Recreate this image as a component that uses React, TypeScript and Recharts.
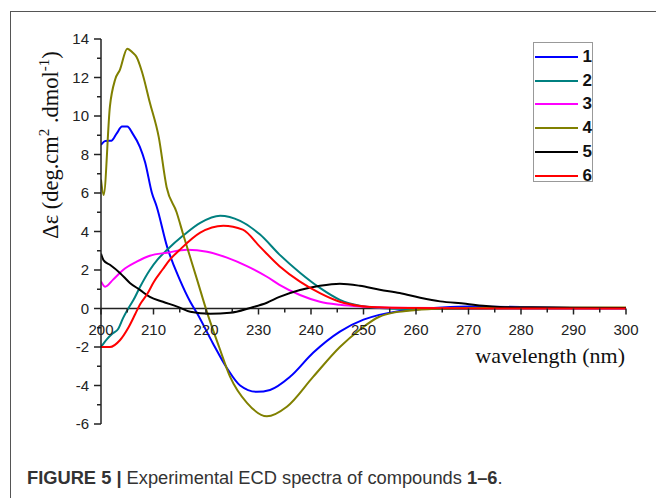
import React from 'react';
import { LineChart, Line, XAxis, YAxis, ReferenceLine, ReferenceDot, Legend } from 'recharts';

// wavelength (nm) and Δε values
const wl1 = [200, 200.8, 202, 203, 204, 205, 206, 207.4, 208.4, 209.7, 210.6, 212.6, 215, 217, 218.3, 221.3, 224, 226.5, 229.7, 232.2, 236, 240.4, 245.5, 250, 253, 256.4, 260, 265, 270, 280, 290, 300];
const cd1 = [8.5, 8.7, 8.72, 9.1, 9.45, 9.45, 9.1, 8.4, 7.6, 6.0, 5.3, 3.2, 1.5, 0.35, -0.25, -1.8, -3.1, -4.0, -4.33, -4.23, -3.55, -2.3, -1.2, -0.58, -0.33, -0.15, -0.05, 0.05, 0.1, 0.08, 0.04, 0.03];

const wl2 = [200, 201.1, 202.2, 203.3, 204.2, 205.2, 206.2, 207.4, 209.3, 210.8, 212.6, 215.7, 218.9, 222.7, 226.5, 230.3, 234, 237.9, 241.7, 245.5, 249.3, 253, 258, 265, 280, 300];
const cd2 = [-2.0, -1.6, -1.3, -1.05, -0.5, 0.0, 0.45, 1.1, 2.0, 2.55, 3.05, 3.8, 4.45, 4.82, 4.55, 3.84, 2.8, 1.86, 1.07, 0.45, 0.14, 0.03, -0.02, -0.02, 0.0, 0.0];

const wl3 = [200, 200.8, 202.3, 204.2, 206.8, 209.3, 212.6, 216.4, 220.2, 224, 227.8, 231.6, 234, 237.9, 241.7, 245.5, 249.3, 255, 265, 300];
const cd3 = [1.4, 1.13, 1.5, 2.0, 2.43, 2.74, 2.9, 3.05, 2.95, 2.64, 2.2, 1.65, 1.23, 0.7, 0.35, 0.19, 0.1, 0.04, 0.02, 0.0];

const wl4 = [200, 200.5, 201.7, 202.7, 203.6, 205, 206, 206.8, 207.8, 209.3, 211, 212.5, 214.4, 215.6, 218.3, 220.2, 222.5, 224.6, 227.8, 231.6, 235.4, 240.4, 245.5, 249.3, 253, 256, 260, 265, 270, 280, 290, 300];
const cd4 = [6.7, 5.9, 10.5, 11.9, 12.4, 13.5, 13.3, 13.05, 12.3, 10.7, 8.9, 6.3, 5.0, 3.9, 1.5, -0.2, -2.0, -3.55, -4.9, -5.6, -5.1, -3.55, -2.0, -1.1, -0.43, -0.2, -0.08, 0.0, 0.03, 0.05, 0.05, 0.05];

const wl5 = [200, 200.5, 201.7, 203.6, 205.5, 207.4, 209.3, 211.8, 214.5, 217, 220.8, 224.6, 228.4, 231.6, 234, 237.9, 241.7, 245.5, 249.3, 253.1, 256.9, 260.8, 264.6, 269.5, 272.8, 276, 282, 290, 300];
const cd5 = [2.85, 2.5, 2.27, 1.85, 1.33, 0.97, 0.6, 0.35, 0.1, -0.17, -0.27, -0.22, 0.03, 0.3, 0.6, 0.96, 1.18, 1.29, 1.18, 0.97, 0.8, 0.56, 0.37, 0.25, 0.14, 0.08, 0.05, 0.03, 0.02];

const wl6 = [200, 201.7, 203.6, 205.2, 206.5, 207.4, 208.8, 210, 211.8, 213, 215, 218.9, 223.3, 227, 230.3, 234, 237.9, 241.7, 245.5, 249.3, 253, 260, 270, 300];
const cd6 = [-2.0, -2.0, -1.65, -1.0, -0.3, 0.2, 0.75, 1.35, 2.05, 2.5, 3.05, 3.94, 4.3, 4.1, 3.2, 2.2, 1.4, 0.8, 0.35, 0.13, 0.06, 0.02, 0.0, 0.0];

const names = ['1', '2', '3', '4', '5', '6'];
const colors = ['#0000ff', '#008080', '#ff00ff', '#808000', '#000000', '#ff0000'];

const yTicks = [-6, -5, -4, -3, -2, -1, 0, 1, 2, 3, 4, 5, 6, 7, 8, 9, 10, 11, 12, 13, 14];
const xTicks = [200, 205, 210, 215, 220, 225, 230, 235, 240, 245, 250, 255, 260, 265, 270, 275, 280, 285, 290, 295, 300];

const series = [
  [wl1, cd1], [wl2, cd2], [wl3, cd3], [wl4, cd4], [wl5, cd5], [wl6, cd6],
].map(([w, c]) => w.map((x, i) => ({ wl: x, v: c[i] })));

const tickFont = '"Liberation Sans", Arial, sans-serif';
const serif = '"Liberation Serif", "Times New Roman", serif';

const YTick = (props: any) => {
  const { x, y, payload } = props;
  const major = payload.value % 2 === 0;
  return (
    <g>
      <line x1={x - (major ? 7 : 4)} x2={x} y1={y} y2={y} stroke="#222" strokeWidth={1.5} />
      {major && (
        <text x={x - 12} y={y} dy={5} textAnchor="end" fontSize={15} fontFamily={tickFont} fill="#222">
          {payload.value}
        </text>
      )}
    </g>
  );
};

const xTickShape = (t: number) => (props: any) => {
  const { cx, cy } = props;
  const major = t % 10 === 0;
  return (
    <g>
      <line x1={cx} x2={cx} y1={cy} y2={cy + (major ? 6 : 4)} stroke="#222" strokeWidth={1.5} />
      {major && (
        <text x={cx} y={cy + 26} textAnchor="middle" fontSize={15} fontFamily={tickFont} fill="#222">
          {t}
        </text>
      )}
    </g>
  );
};

const LegendBox = () => (
  <div style={{ width: 60, height: 140, border: '1px solid #999', background: '#fff', boxSizing: 'border-box', paddingTop: 2 }}>
    {names.map((n, i) => (
      <div key={n} style={{ display: 'flex', alignItems: 'center', height: 23.8 }}>
        <div style={{ width: 44, height: 2, background: colors[i], marginLeft: 1 }} />
        <span style={{ marginLeft: 5, fontFamily: tickFont, fontWeight: 'bold', fontSize: 17, lineHeight: '20px', color: '#111' }}>{n}</span>
      </div>
    ))}
  </div>
);

export default function App() {
  return (
    <div style={{ position: 'absolute', left: 0, top: 0, width: 656, height: 498, background: '#fff', overflow: 'hidden' }}>
      <div style={{ position: 'absolute', left: 10, top: 11, width: 646, height: 487, borderTop: '1.5px solid #555', borderLeft: '1.5px solid #555' }} />
      <LineChart width={656} height={498} margin={{ top: 39, right: 30, bottom: 74, left: 10 }}>
        <XAxis type="number" dataKey="wl" domain={[200, 300]} ticks={xTicks} hide allowDataOverflow />
        <YAxis
          type="number"
          domain={[-6, 14]}
          ticks={yTicks}
          width={91}
          tickSize={0}
          tickMargin={0}
          tickLine={false}
          axisLine={{ stroke: '#222', strokeWidth: 1.5 }}
          tick={<YTick />}
          interval={0}
          allowDataOverflow
        />
        <ReferenceLine y={0} stroke="#222" strokeWidth={1.5} />
        {xTicks.map((t) => (
          <ReferenceDot key={t} x={t} y={0} r={0} shape={xTickShape(t)} ifOverflow="visible" />
        ))}
        {series.map((d, i) => (
          <Line
            key={names[i]}
            data={d}
            dataKey="v"
            name={names[i]}
            type="monotone"
            stroke={colors[i]}
            strokeWidth={2}
            dot={false}
            activeDot={false}
            isAnimationActive={false}
          />
        ))}
        <Legend
          layout="horizontal"
          verticalAlign="middle"
          align="center"
          content={() => <LegendBox />}
          wrapperStyle={{ position: 'absolute', left: 533, top: 42, width: 62 }}
        />
      </LineChart>
      <div
        style={{
          position: 'absolute',
          left: 50,
          top: 145,
          transform: 'translate(-50%, -50%) rotate(-90deg)',
          whiteSpace: 'nowrap',
          fontFamily: serif,
          fontSize: 22.5,
          color: '#111',
        }}
      >
        Δε (deg.cm<sup style={{ fontSize: 15 }}>2</sup> .dmol<sup style={{ fontSize: 15 }}>-1</sup>)
      </div>
      <div
        style={{
          position: 'absolute',
          right: 31,
          top: 343,
          whiteSpace: 'nowrap',
          fontFamily: serif,
          fontSize: 22,
          lineHeight: '26px',
          color: '#111',
        }}
      >
        wavelength (nm)
      </div>
      <div
        style={{
          position: 'absolute',
          left: 27,
          top: 467,
          whiteSpace: 'nowrap',
          fontFamily: tickFont,
          fontSize: 18.3,
          lineHeight: '22px',
          color: '#333',
        }}
      >
        <b>FIGURE 5 |</b> Experimental ECD spectra of compounds <b>1–6</b>.
      </div>
    </div>
  );
}
